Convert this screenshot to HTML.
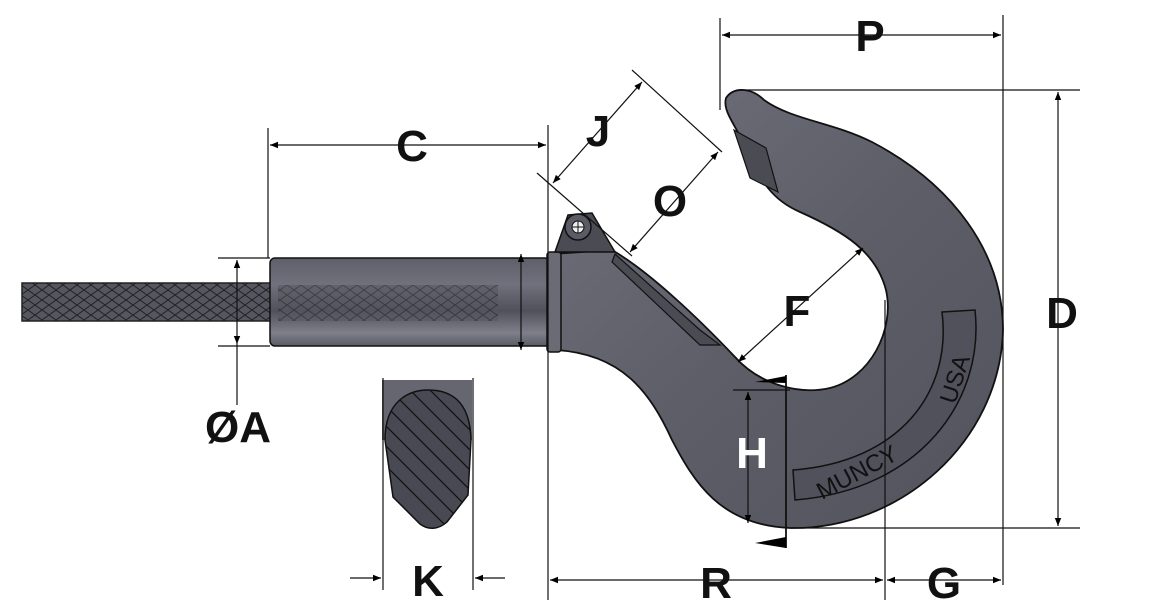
<!DOCTYPE html>
<html><head><meta charset="utf-8"><style>
html,body{margin:0;padding:0;background:#fff;}
svg{display:block;}
text{font-family:"Liberation Sans",sans-serif;font-weight:bold;fill:#111;}
</style></head><body>
<svg width="1149" height="609" viewBox="0 0 1149 609" xmlns="http://www.w3.org/2000/svg">
<defs>
<linearGradient id="sh" x1="0" y1="0" x2="0" y2="1">
<stop offset="0" stop-color="#5e5f69"/><stop offset="0.3" stop-color="#70717c"/><stop offset="0.6" stop-color="#50515b"/><stop offset="0.85" stop-color="#7e7f8a"/><stop offset="1" stop-color="#5a5b64"/>
</linearGradient>
<linearGradient id="hk" x1="0" y1="0" x2="1" y2="1">
<stop offset="0" stop-color="#70717c"/><stop offset="0.5" stop-color="#5d5e68"/><stop offset="1" stop-color="#52535c"/>
</linearGradient>
<pattern id="rope" width="14" height="10" patternUnits="userSpaceOnUse">
<rect width="14" height="10" fill="#55565f"/>
<path d="M0 0 L14 10 M0 10 L14 0" stroke="#222" stroke-width="1"/>
</pattern>
<marker id="ar" viewBox="0 0 10 10" refX="10" refY="5" markerWidth="12" markerHeight="8" orient="auto-start-reverse" markerUnits="userSpaceOnUse"><path d="M0 1 L10 5 L0 9Z" fill="#000"/></marker>
<clipPath id="ks"><path d="M385 440 C385 400 410 390 428 390 C450 390 470 400 471 440 L468 495 L447 522 C438 530 428 530 420 524 L393 497 Z"/></clipPath>
</defs>

<rect x="22" y="283" width="252" height="38" fill="url(#rope)" stroke="#222" stroke-width="1.5"/>
<rect x="270" y="258" width="280" height="88" rx="5" fill="url(#sh)" stroke="#111" stroke-width="1.5"/>
<rect x="278" y="285" width="220" height="36" fill="url(#rope)" opacity="0.55"/>
<path d="M552 254 L612 250 C650 272 700 320 735 357 C760 385 800 395 830 388 C870 378 895 330 886 290 C876 252 845 232 800 212 C772 200 760 180 748 152 C738 128 722 112 726 98 C734 86 752 88 764 100 C792 120 832 122 872 142 C952 184 1003 252 1003 330 C1000 442 900 530 790 528 C720 525 694 482 672 440 C650 392 622 354 556 350 Z" fill="url(#hk)" stroke="#111" stroke-width="1.8"/>
<rect x="547" y="252" width="14" height="100" rx="3" fill="#6a6b75" stroke="#111" stroke-width="1.5"/>
<path d="M555 252 L568 215 L592 213 L615 252 Z" fill="#4a4b53" stroke="#111" stroke-width="1.5"/>
<circle cx="578" cy="227" r="13" fill="#5a5b64" stroke="#111" stroke-width="1.5"/>
<circle cx="578" cy="227" r="6" fill="#eee" stroke="#111"/>
<path d="M572 227 H584 M578 221 V233" stroke="#111" stroke-width="1"/>
<path d="M615 254 L700 330 L720 345 L700 345 L612 262 Z" fill="#4a4b53" stroke="#111" stroke-width="1.2"/>
<path d="M734 130 L766 148 L778 192 L750 178 Z" fill="#4a4b53" stroke="#111" stroke-width="1.2"/>
<path d="M942 312 L975 310 C985 400 920 490 795 500 L793 470 C900 462 952 392 942 312 Z" fill="#50515a" stroke="#111" stroke-width="1.5"/>
<text x="0" y="0" font-size="24" fill="#222" transform="translate(822 500) rotate(-28)" style="font-weight:normal">MUNCY</text>
<text x="0" y="0" font-size="24" fill="#222" transform="translate(955 405) rotate(-72)" style="font-weight:normal">USA</text>

<rect x="382" y="380" width="90" height="60" fill="#65666f"/>
<path d="M385 440 C385 400 410 390 428 390 C450 390 470 400 471 440 L468 495 L447 522 C438 530 428 530 420 524 L393 497 Z" fill="#484952" stroke="#111" stroke-width="1.5"/>
<g clip-path="url(#ks)" stroke="#111" stroke-width="1.2">
<path d="M360 380 L520 540 M360 400 L520 560 M360 420 L520 580 M360 440 L520 600 M360 360 L520 520 M360 340 L520 500 M360 320 L520 480 M360 300 L520 460"/>
</g>
<path d="M383 378 V590 M473 378 V590" stroke="#111" stroke-width="1.2"/>

<g stroke="#111" stroke-width="1.2" fill="none">
<path d="M268 128 V258 M548 125 V600"/>
<path d="M270 145 H546" marker-start="url(#ar)" marker-end="url(#ar)"/>
<path d="M720 18 V110 M1003 15 V585"/>
<path d="M722 35 H1001" marker-start="url(#ar)" marker-end="url(#ar)"/>
<path d="M740 90 H1080 M790 528 H1080"/>
<path d="M1058 92 V526" marker-start="url(#ar)" marker-end="url(#ar)"/>
<path d="M885 300 V600"/>
<path d="M550 580 H883" marker-start="url(#ar)" marker-end="url(#ar)"/>
<path d="M887 580 H1001" marker-start="url(#ar)" marker-end="url(#ar)"/>
<path d="M350 578 H381" marker-end="url(#ar)"/>
<path d="M505 578 H475" marker-end="url(#ar)"/>
<path d="M218 258 H270 M218 346 H270"/>
<path d="M237 260 V344" marker-start="url(#ar)" marker-end="url(#ar)"/>
<path d="M237 344 V405"/>
<path d="M521 254 V350" marker-start="url(#ar)" marker-end="url(#ar)"/>
<path d="M537 173 L632 256 M632 70 L722 152"/>
<path d="M553 183 L642 82" marker-start="url(#ar)" marker-end="url(#ar)"/>
<path d="M630 252 L718 152" marker-start="url(#ar)" marker-end="url(#ar)"/>
<path d="M738 362 L863 248" marker-start="url(#ar)" marker-end="url(#ar)"/>
<path d="M733 390 H790"/>
<path d="M748 392 V523" marker-start="url(#ar)" marker-end="url(#ar)"/>
<path d="M786 375 V548" stroke-width="1.8"/>
</g>
<path d="M755 382 L786 376 L786 383 Z" fill="#000"/>
<path d="M755 543 L786 537 L786 548 Z" fill="#000"/>

<g font-size="44">
<text x="412" y="161" text-anchor="middle">C</text>
<text x="870" y="51" text-anchor="middle">P</text>
<text x="1062" y="328" text-anchor="middle">D</text>
<text x="716" y="598" text-anchor="middle">R</text>
<text x="944" y="598" text-anchor="middle">G</text>
<text x="428" y="596" text-anchor="middle">K</text>
<text x="238" y="442" text-anchor="middle">ØA</text>
<text x="598" y="146" text-anchor="middle">J</text>
<text x="670" y="216" text-anchor="middle">O</text>
<text x="797" y="326" text-anchor="middle">F</text>
<text x="752" y="468" text-anchor="middle" style="fill:#fff">H</text>
</g>
</svg>
</body></html>
